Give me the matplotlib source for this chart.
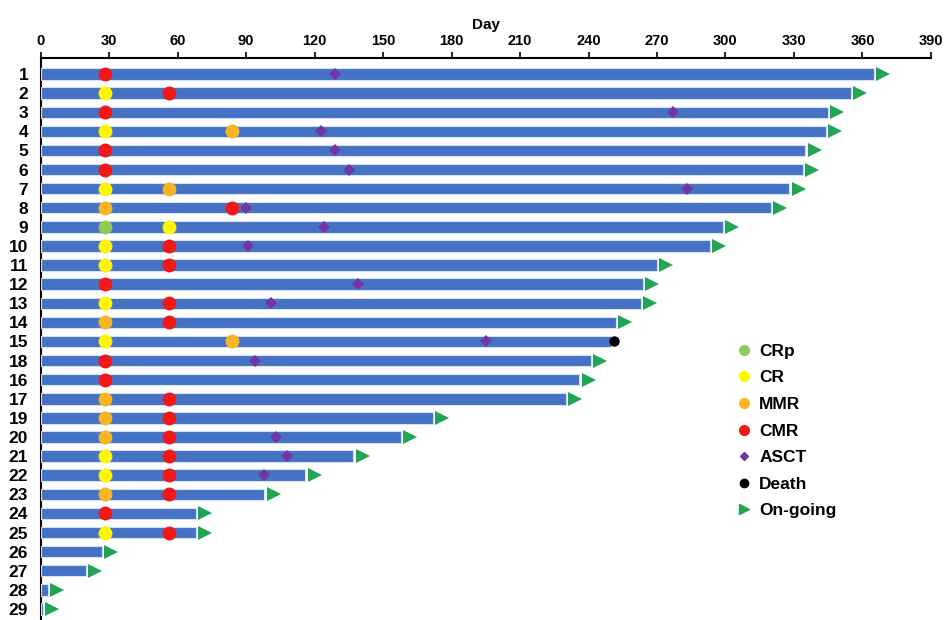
import matplotlib.pyplot as plt
from matplotlib.lines import Line2D

plt.rcParams['font.family'] = ['Liberation Sans', 'DejaVu Sans']

# Patients in display order (top to bottom)
patients = ['1', '2', '3', '4', '5', '6', '7', '8', '9', '10', '11', '12', '13', '14', '15',
            '18', '16', '17', '19', '20', '21', '22', '23', '24', '25', '26', '27', '28', '29']
duration = [365, 355, 345, 344, 335, 334, 328, 320, 299, 293, 270, 264, 263, 252, 250,
            241, 236, 230, 172, 158, 137, 116, 98, 68, 68, 27, 20, 3, 1]
ongoing_pts = [p for p in patients if p != '15']

crp_pts = ['9']
crp_days = [28]
cr_pts = ['2', '4', '7', '9', '10', '11', '13', '15', '21', '22', '25']
cr_days = [28, 28, 28, 56, 28, 28, 28, 28, 28, 28, 28]
mmr_pts = ['4', '7', '8', '14', '15', '17', '19', '20', '23']
mmr_days = [84, 56, 28, 28, 84, 28, 28, 28, 28]
cmr_pts = ['1', '2', '3', '5', '6', '8', '10', '11', '12', '13', '14', '18', '16', '17',
           '19', '20', '21', '22', '23', '24', '25']
cmr_days = [28, 56, 28, 28, 28, 84, 56, 56, 28, 56, 56, 28, 28, 56,
            56, 56, 56, 56, 56, 28, 56]
asct_pts = ['1', '3', '4', '5', '6', '7', '8', '9', '10', '12', '13', '15', '18', '20', '21', '22']
asct_days = [129, 277, 123, 129, 135, 283, 90, 124, 91, 139, 101, 195, 94, 103, 108, 98]
death_pts = ['15']
death_days = [251]

x_ticks = list(range(0, 391, 30))

BLUE = '#4472C4'
col_crp = '#8DCB5A'
col_cr = '#FFF700'
col_mmr = '#F8B523'
col_cmr = '#F21818'
col_asct = '#7435A0'
col_go = '#1FA553'

row = {p: i for i, p in enumerate(patients)}

fig = plt.figure(figsize=(9.48, 6.2), dpi=100)
ax = fig.add_axes([0.0429, 0.0, 0.982 - 0.0429, 1 - 58 / 620])

ax.barh([row[p] for p in patients], duration, height=0.6, color=BLUE,
        edgecolor='#d6e0f3', linewidth=0.8, zorder=2)

def dots(pts, days, color, marker='o', ms=10):
    ax.plot(days, [row[p] for p in pts], linestyle='none', marker=marker,
            color=color, markersize=ms, markeredgewidth=0, zorder=4)

dots(crp_pts, crp_days, col_crp)
dots(cr_pts, cr_days, col_cr)
dots(mmr_pts, mmr_days, col_mmr)
dots(cmr_pts, cmr_days, col_cmr)
dots(asct_pts, asct_days, col_asct, marker='D', ms=6.5)
dots(death_pts, death_days, 'black', ms=7.5)
dots(ongoing_pts, [duration[row[p]] + 4 for p in ongoing_pts], col_go, marker='>', ms=10)

ax.set_xlim(0, 390)
ax.set_ylim(28.58, -0.84)
ax.xaxis.tick_top()
ax.xaxis.set_label_position('top')
ax.set_xticks(x_ticks)
ax.set_xticklabels([str(t) for t in x_ticks], fontsize=10.5, fontweight='bold')
ax.tick_params(axis='x', direction='out', length=4, width=1.2, pad=3)
ax.set_xlabel('Day', fontsize=11, fontweight='bold', labelpad=4)
ax.set_yticks(range(len(patients)))
ax.set_yticklabels(patients, fontsize=12.5, fontweight='bold')
ax.tick_params(axis='y', length=0, pad=9)

for s in ['right', 'bottom']:
    ax.spines[s].set_visible(False)
ax.spines['top'].set_linewidth(1.5)
ax.spines['left'].set_linewidth(1.5)
ax.spines['left'].set_zorder(1)

handles = [
    Line2D([], [], linestyle='none', marker='o', color=col_crp, markersize=7, label='CRp'),
    Line2D([], [], linestyle='none', marker='o', color=col_cr, markersize=7, label='CR'),
    Line2D([], [], linestyle='none', marker='o', color=col_mmr, markersize=7, label='MMR'),
    Line2D([], [], linestyle='none', marker='o', color=col_cmr, markersize=7, label='CMR'),
    Line2D([], [], linestyle='none', marker='D', color=col_asct, markersize=4.5, label='ASCT'),
    Line2D([], [], linestyle='none', marker='o', color='black', markersize=6, label='Death'),
    Line2D([], [], linestyle='none', marker='>', color=col_go, markersize=7, label='On-going'),
]
leg = ax.legend(handles=handles, loc='upper left', bbox_to_anchor=(728 / 948, 1 - 335 / 620),
                bbox_transform=fig.transFigure, frameon=False, handlelength=0.8,
                handletextpad=0.5, labelspacing=0.66, borderpad=0,
                prop={'weight': 'bold', 'size': 12.5})

fig.savefig('out.png', dpi=100)
